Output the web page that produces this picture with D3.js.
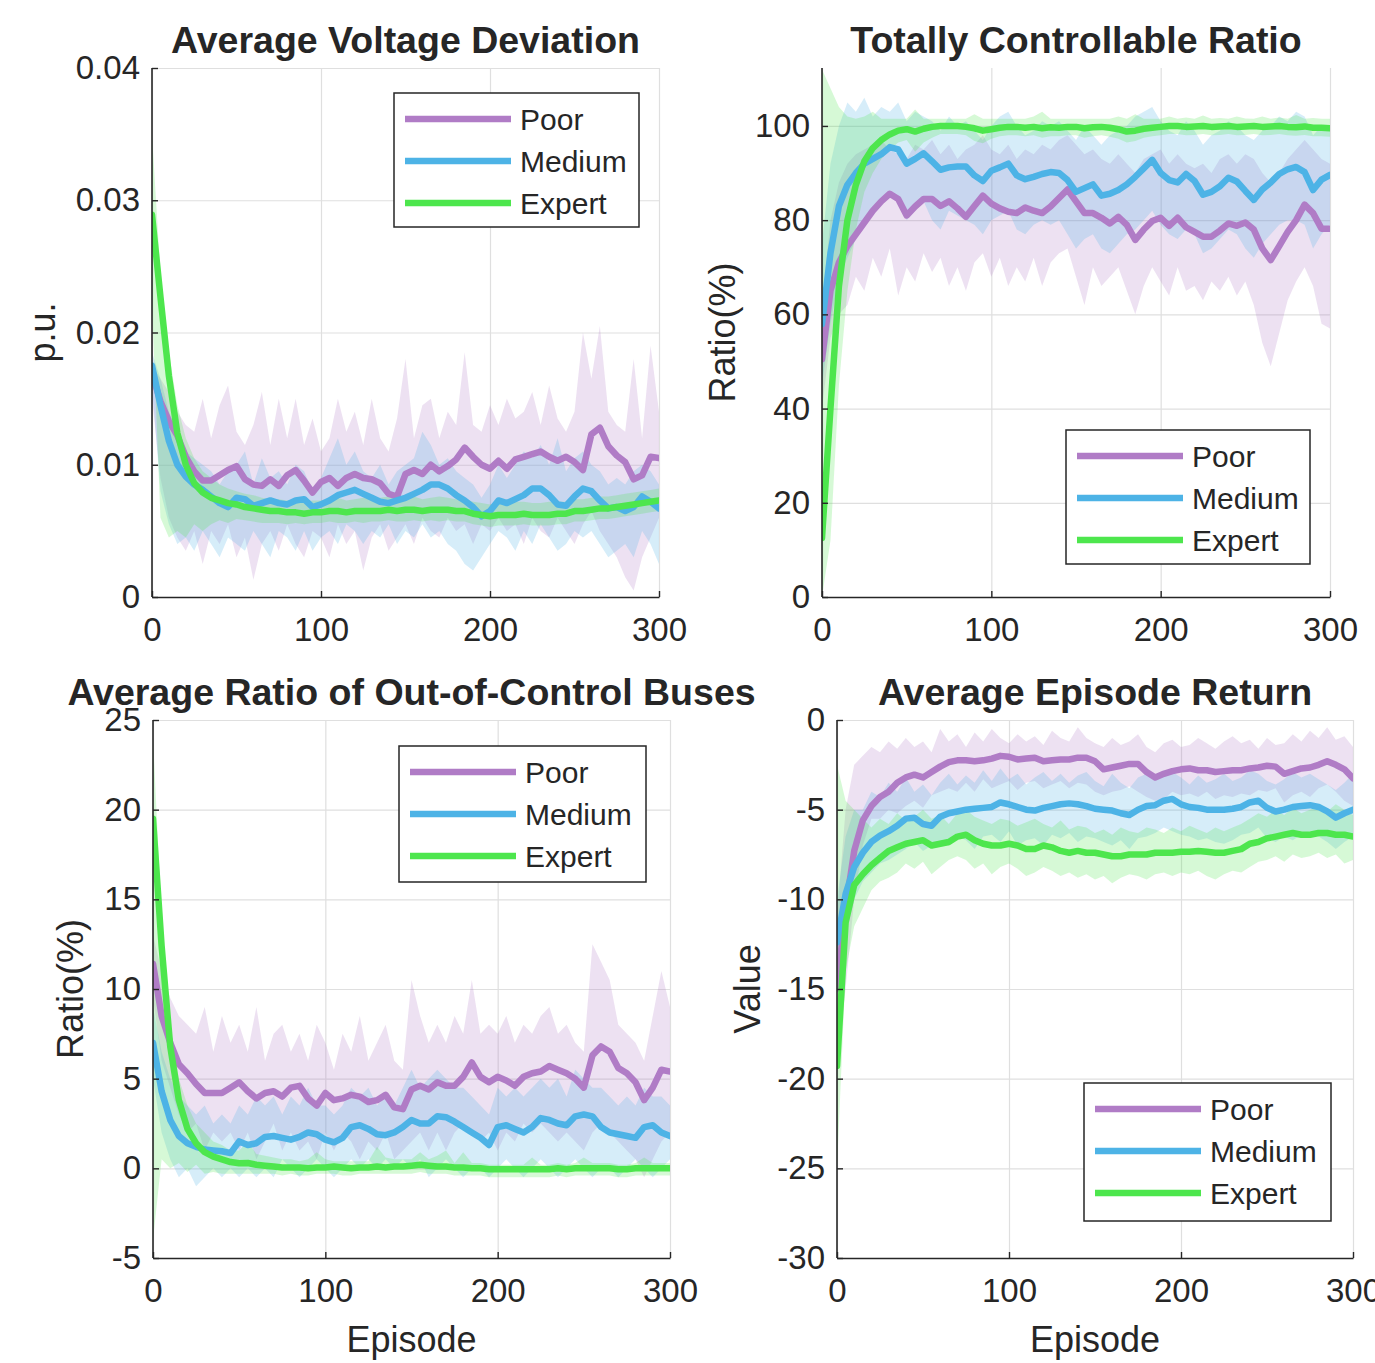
<!DOCTYPE html>
<html>
<head>
<meta charset="utf-8">
<script src="https://cdn.jsdelivr.net/npm/d3@7"></script>
<style>
  body { margin: 0; background: #fff; }
  text { font-family: "Liberation Sans", Arial, Helvetica, sans-serif; fill: #262626; }
</style>
</head>
<body>
<svg id="fig" width="1375" height="1363"></svg>
<script>
// episodes sampled every 5
const episodes = d3.range(0, 301, 5);
const seriesNames = ["Poor", "Medium", "Expert"];
const seriesColors = ["#b07cc6", "#4db3e6", "#4de64d"];
const xTicks = [0, 100, 200, 300];

// Average Voltage Deviation (values in 1e-3 p.u.)
const avdTicks = [0, 10, 20, 30, 40];
const avdTickLabels = ["0", "0.01", "0.02", "0.03", "0.04"];
const avdPoor = [16.9,14.8,13.3,12.2,10.6,9.5,8.8,8.8,9.2,9.6, 9.9,8.9,8.5,8.4,8.9,8.4,9.2,9.6,8.8,7.9, 8.7,9.0,8.4,9.0,9.3,9.0,8.9,8.6,7.8,7.6, 9.3,9.6,9.3,10.0,9.5,9.9,10.4,11.3,10.6,10.0, 9.7,10.3,9.7,10.4,10.6,10.8,11.0,10.6,10.3,10.6, 10.2,9.6,12.3,12.8,11.4,10.7,10.2,8.9,9.2,10.6, 10.5];
const avdPoorHi = [17.5,16.5,15.5,14.0,13.0,12.5,15.0,12.0,14.5,16.0, 12.5,11.5,13.0,15.5,11.5,15.0,12.0,15.0,11.5,13.5, 11.0,12.0,15.0,12.5,14.0,11.5,15.0,12.0,11.0,13.5, 18.0,12.0,14.5,15.0,12.0,14.0,13.0,18.5,13.0,12.5, 14.5,13.0,15.0,13.5,14.0,15.5,13.0,16.0,13.5,12.5, 14.0,20.0,16.5,20.5,14.0,13.0,12.5,18.0,12.0,19.0, 14.0];
const avdPoorLo = [15.0,9.0,6.0,4.5,3.5,5.0,2.5,5.0,4.0,5.5, 3.0,4.5,1.3,4.0,5.0,3.5,5.5,4.0,3.0,5.0, 4.5,3.0,5.5,4.0,5.0,2.0,4.5,5.5,3.5,4.5, 5.5,4.0,6.0,5.0,4.5,6.0,5.0,5.5,4.0,5.5, 5.0,6.0,5.0,5.5,4.0,6.0,5.0,4.5,6.0,5.0, 4.0,5.5,6.5,5.0,4.0,3.0,1.5,0.5,3.0,4.5, 6.0];
const avdMedium = [17.5,14.5,11.8,10.0,9.1,8.5,8.1,7.6,7.1,6.8, 7.5,7.4,6.9,7.1,7.3,7.1,7.0,7.3,7.4,6.8, 7.0,7.3,7.7,7.9,8.1,7.8,7.5,7.2,7.1,7.3, 7.5,7.8,8.1,8.5,8.5,8.2,7.7,7.3,6.8,6.1, 6.5,7.3,7.1,7.4,7.7,8.2,8.2,7.7,7.0,6.9, 7.6,8.2,8.0,7.3,6.7,6.8,6.5,6.8,7.6,7.2, 6.7];
const avdMediumHi = [18.5,16.5,14.0,12.5,11.0,10.5,10.0,9.5,8.5,9.5, 10.0,11.0,8.5,10.5,9.0,9.5,8.5,10.0,9.5,8.0, 9.0,10.5,12.0,10.0,11.0,9.5,9.0,10.0,8.5,9.5, 10.0,10.5,12.5,11.5,10.0,10.5,9.5,9.0,8.5,7.5, 8.5,10.0,9.0,10.0,11.0,10.5,11.5,10.0,12.0,9.5, 10.5,11.0,10.0,9.5,8.5,9.0,8.5,9.5,10.0,9.5, 8.5];
const avdMediumLo = [16.0,8.0,5.5,4.0,4.5,3.5,5.0,4.0,3.0,4.5, 4.0,3.5,5.0,4.0,3.0,5.0,4.5,3.5,5.0,3.5, 4.5,5.0,4.0,5.5,5.0,4.0,5.0,4.5,5.5,4.0, 5.0,4.5,5.5,4.5,5.0,4.0,3.5,2.5,2.0,3.0, 4.0,5.0,4.5,3.5,5.0,4.0,5.5,4.5,3.5,4.0, 5.0,4.5,5.0,4.0,3.0,3.5,4.0,3.0,5.0,4.0, 2.5];
const avdExpert = [28.9,22.7,16.7,12.4,10.0,8.6,7.9,7.5,7.3,7.1, 7.0,6.8,6.7,6.6,6.5,6.5,6.4,6.4,6.3,6.4, 6.4,6.5,6.5,6.4,6.5,6.5,6.5,6.5,6.6,6.5, 6.6,6.6,6.5,6.6,6.6,6.6,6.5,6.5,6.3,6.2, 6.1,6.2,6.2,6.2,6.3,6.2,6.2,6.2,6.3,6.3, 6.5,6.5,6.6,6.7,6.7,6.8,6.9,7.0,7.1,7.2, 7.3];
const avdExpertHi = [35.0,24.5,18.5,14.5,12.0,10.5,9.5,9.0,8.5,8.2, 8.0,7.8,7.7,7.5,7.4,7.4,7.3,7.4,7.2,7.3, 7.3,7.4,7.5,7.3,7.4,7.5,7.4,7.5,7.6,7.4, 7.5,7.6,7.4,7.5,7.6,7.5,7.4,7.4,7.2,7.1, 7.0,7.1,7.1,7.2,7.2,7.1,7.1,7.2,7.2,7.2, 7.4,7.4,7.5,7.6,7.6,7.7,7.8,7.9,8.0,8.1, 8.2];
const avdExpertLo = [22.0,6.0,4.5,5.0,4.5,5.5,5.0,5.5,5.8,5.6, 5.9,5.8,5.7,5.6,5.6,5.6,5.5,5.6,5.5,5.6, 5.6,5.7,5.6,5.6,5.7,5.6,5.7,5.7,5.8,5.7, 5.7,5.8,5.7,5.8,5.7,5.8,5.7,5.7,5.5,5.4, 5.3,5.4,5.4,5.4,5.5,5.4,5.4,5.4,5.5,5.5, 5.7,5.7,5.8,5.9,5.9,6.0,6.1,6.2,6.3,6.4, 6.5];

// Totally Controllable Ratio (%)
const tcrTicks = [0, 20, 40, 60, 80, 100];
const tcrPoor = [50.5,65,71,74.5,77,79.5,82,84,85.6,84.5, 81,82.9,84.5,84.5,83,84,82.5,80.7,83,85.2, 83.5,82.5,81.8,81.5,82.7,82,81.5,82.9,84.7,86.5, 84,81.5,81.5,80.5,79.3,80.7,79,75.8,78,79.8, 80.5,78.8,80.5,78.5,77.5,76.5,76.5,77.8,79.3,78.8, 79.5,78,74,71.5,74.5,77.5,80,83.3,81.5,78.2, 78.2];
const tcrPoorHi = [62,80,88,92,94,95,96,97,95,94, 93,96,95,97,94,96,93,95,96,98, 95,94,96,93,95,94,96,95,97,98, 96,94,95,93,92,94,92,90,93,94, 95,92,94,92,91,92,90,93,94,92, 94,93,90,88,90,93,95,97,95,93, 92];
const tcrPoorLo = [40,55,60,62,68,65,72,68,74,64, 70,67,73,69,72,66,70,65,71,73, 68,72,66,70,67,72,66,71,73,74, 68,62,70,66,68,70,65,60,66,70, 67,64,70,65,66,63,67,65,68,64, 67,62,54,49,56,63,67,70,66,58, 57];
const tcrMedium = [58,73,83,87.5,90,92,93,94,95.5,95, 92,93,94.2,92.5,90.7,91.2,91.4,91.4,89.5,88.3, 90.5,91.2,92,89.5,88.7,89.2,89.8,90.2,90,88.5, 86,86.8,87.6,85.2,85.6,86.4,87.6,89.2,91,92.8, 90,88.5,88,89.8,88.3,85.4,86,87.2,89,88.2, 86.2,84.3,86.5,88,89.8,90.8,91.3,90.2,86.4,88.6, 89.6];
const tcrMediumHi = [75,92,100,105,103,106,102,104,103,105, 101,103,102,101,99,102,100,101,99,97, 100,102,103,100,98,99,101,100,101,99, 97,100,98,96,98,99,100,102,103,104, 101,99,98,101,99,96,98,99,101,100, 98,97,99,100,102,101,103,102,98,100, 100];
const tcrMediumLo = [45,58,68,72,76,80,82,84,86,85, 80,82,84,80,78,82,81,80,79,77, 80,81,82,78,77,79,80,79,80,77, 74,76,77,74,73,75,77,78,80,82, 79,77,76,78,77,73,74,76,78,77, 74,72,75,77,79,80,80,79,74,77, 79];
const tcrExpert = [12.5,40,66,80,87.5,92.5,95.3,97,98.2,99, 99.3,98.8,99.4,99.8,100,100,100,99.8,99.5,99.0, 99.3,99.6,99.8,99.8,99.6,99.8,99.5,99.7,99.6,99.8, 99.8,99.5,99.7,99.8,99.6,99.3,98.8,99.0,99.4,99.6, 99.8,100,100,99.8,99.9,100,99.8,99.9,100,99.8, 99.9,100,99.8,99.9,100,99.8,99.7,99.9,99.6,99.6, 99.5];
const tcrExpertHi = [112,108,104,102,101.5,102,103,101.5,101.5,101.5, 101.5,103.5,101.5,101.5,101.5,101.5,101.5,101.5,102.5,101.5, 101.5,101.5,101.5,101.5,101.5,102,103,101.5,101.5,101.5, 101.5,101.5,101.5,101.5,101.5,102,101.5,102.5,101.5,101.5, 101.5,102,101.5,101.8,101.5,102.2,101.5,101.7,101.5,102, 101.6,101.5,102,101.5,101.8,101.5,102.3,101.5,101.7,101.5, 101.5];
const tcrExpertLo = [0,12,45,65,78,86,90,93,95,96.5, 97,94.5,96.5,97.5,98.3,98.3,98.3,98,96.8,96.3, 97.3,97.8,98,98,97.8,98,97.5,97.8,97.8,98, 98,97.5,97.8,98,97.7,97.3,96.5,96.8,97.5,97.8, 98,98.3,98.3,98,98.1,98.3,98,98.1,98.3,98, 98.1,98.3,98,98.1,98.3,98,97.9,98.1,97.8,97.8, 97.7];

// Average Ratio of Out-of-Control Buses (%)
const arcTicks = [-5, 0, 5, 10, 15, 20, 25];
const arcPoor = [11.4,8.5,7.0,5.8,5.3,4.7,4.2,4.2,4.2,4.5, 4.8,4.3,3.9,4.2,4.3,4.0,4.5,4.6,3.9,3.5, 4.2,3.8,3.9,4.1,4.0,3.7,3.8,4.1,3.4,3.3, 4.4,4.6,4.4,4.8,4.6,4.6,5.1,5.9,5.1,4.8, 5.1,4.9,4.6,5.1,5.3,5.4,5.7,5.5,5.3,5.0, 4.5,6.3,6.8,6.5,5.6,5.3,4.8,3.8,4.5,5.5, 5.4];
const arcPoorHi = [13,11,9.5,8.5,8.0,7.5,9.0,6.5,8.5,7.0, 8.0,6.5,9.0,6.0,7.5,8.0,6.5,7.5,6.0,8.0, 7.0,5.5,7.5,6.5,8.5,6.0,7.0,8.0,6.0,5.5, 10.5,8.5,7.0,8.0,7.0,8.5,7.5,10.5,7.5,8.0, 7.5,8.5,7.0,8.0,7.5,8.5,9.0,7.5,8.0,7.0, 6.5,12.5,11.5,10.5,8.0,7.5,7.0,6.0,8.5,11.0, 9.0];
const arcPoorLo = [9.5,6.0,4.5,3.0,2.0,2.5,1.0,2.0,1.5,2.0, 1.0,2.0,0.5,1.5,2.5,1.0,2.0,1.0,1.5,0.5, 2.0,1.0,2.0,1.5,0.5,1.5,1.0,2.0,0.5,1.0, 1.5,2.0,1.0,2.0,1.0,2.0,2.5,2.0,1.5,2.0, 1.0,2.0,1.5,2.5,2.0,2.5,2.0,1.5,2.0,1.5, 1.0,2.0,2.5,2.0,1.5,1.0,0.5,-0.5,0.5,1.5, 2.0];
const arcMedium = [7.0,4.3,2.7,1.8,1.4,1.2,1.05,1.0,0.95,0.85, 1.5,1.3,1.4,1.75,1.8,1.7,1.6,1.75,2.0,1.9, 1.6,1.45,1.7,2.3,2.4,2.2,1.9,1.85,2.0,2.3, 2.7,2.5,2.5,2.9,2.85,2.6,2.3,2.0,1.7,1.3, 2.3,2.4,2.2,2.0,2.3,2.8,2.7,2.5,2.4,2.9, 3.0,2.9,2.3,2.0,1.9,1.8,1.7,2.3,2.4,2.0, 1.8];
const arcMediumHi = [9.0,6.5,5.0,4.0,3.5,3.0,3.5,2.5,3.0,2.5, 3.5,3.0,4.0,3.5,4.0,3.0,4.0,3.5,4.5,3.5, 3.5,3.0,3.5,4.5,4.0,4.5,3.5,4.0,3.5,4.5, 5.5,4.5,5.0,5.5,5.0,4.5,4.5,4.0,3.5,3.0, 4.5,4.0,4.5,4.0,4.5,5.0,4.5,5.0,4.0,5.5, 5.0,4.5,4.5,4.0,3.5,4.0,3.5,4.5,4.0,4.0, 3.5];
const arcMediumLo = [5.0,2.0,0.5,-0.5,0.0,-1.0,-0.5,0.0,-0.5,0.0, -0.5,0.0,-0.5,0.0,-0.5,0.5,0.0,-0.5,0.0,0.5, 0.0,-0.5,0.0,0.5,0.0,0.5,0.0,0.5,0.0,0.5, 0.0,0.5,-0.5,0.0,0.5,0.0,-0.5,0.0,0.0,-0.5, 0.0,0.5,0.0,-0.5,0.0,0.5,0.0,-0.5,0.0,0.5, 0.0,-0.5,0.0,0.0,-0.5,0.0,0.5,0.0,-0.5,0.0, 0.5];
const arcExpert = [19.5,12.4,6.8,3.8,2.2,1.4,0.9,0.65,0.5,0.35, 0.28,0.3,0.2,0.15,0.1,0.05,0.05,0.05,0.0,0.05, 0.05,0.1,0.05,0.0,0.05,0.05,0.1,0.05,0.1,0.1, 0.15,0.2,0.15,0.1,0.1,0.05,0.05,0.0,0.0,-0.05, -0.05,-0.05,-0.05,-0.05,-0.05,-0.05,-0.05,0.0,-0.05,0.0, 0.0,0.0,0.0,0.0,-0.05,-0.05,0.0,0.0,0.0,0.0, 0.0];
const arcExpertHi = [24,14,8,5,3.5,2.5,2.0,1.5,1.3,1.0, 1.0,1.5,0.8,0.7,0.6,0.5,0.5,0.4,0.5,0.9, 0.5,0.4,0.4,0.4,0.4,0.4,1.2,0.6,0.5,0.5, 0.5,0.9,0.5,0.7,1.0,0.3,0.9,0.3,0.3,0.2, 0.2,0.2,0.2,0.2,0.6,0.2,0.2,0.3,0.2,0.3, 0.6,0.3,0.3,0.3,0.2,0.2,0.3,0.6,0.3,0.3, 0.3];
const arcExpertLo = [-4,0.5,0.0,0.3,-0.2,0.2,-0.3,-0.2,-0.3,-0.3, -0.3,-0.3,-0.3,-0.3,-0.3,-0.4,-0.3,-0.4,-0.4,-0.3, -0.3,-0.3,-0.4,-0.4,-0.3,-0.3,-0.3,-0.3,-0.3,-0.3, -0.3,-0.2,-0.3,-0.3,-0.3,-0.4,-0.4,-0.4,-0.4,-0.5, -0.5,-0.5,-0.5,-0.5,-0.5,-0.5,-0.5,-0.4,-0.5,-0.4, -0.4,-0.4,-0.4,-0.4,-0.5,-0.5,-0.4,-0.4,-0.4,-0.4, -0.4];

// Average Episode Return
const aerTicks = [-30, -25, -20, -15, -10, -5, 0];
const aerPoor = [-15.0,-10.5,-7.3,-5.6,-4.8,-4.3,-4.0,-3.5,-3.2,-3.05, -3.2,-2.9,-2.6,-2.35,-2.25,-2.25,-2.3,-2.25,-2.15,-2.0, -2.05,-2.2,-2.15,-2.1,-2.3,-2.25,-2.2,-2.2,-2.1,-2.1, -2.3,-2.75,-2.65,-2.55,-2.45,-2.45,-2.9,-3.2,-3.0,-2.85, -2.75,-2.7,-2.8,-2.8,-2.9,-2.85,-2.8,-2.8,-2.7,-2.65, -2.55,-2.6,-3.0,-2.85,-2.7,-2.65,-2.5,-2.3,-2.5,-2.75, -3.25];
const aerPoorHi = [-11,-5,-2.5,-2.0,-1.5,-1.8,-1.2,-1.6,-1.0,-1.5, -1.2,-1.8,-0.5,-1.2,-0.8,-1.5,-0.7,-1.2,-0.5,-1.0, -1.3,-0.8,-1.2,-0.9,-1.4,-0.6,-1.0,-1.2,-0.4,-1.0, -1.3,-1.5,-1.0,-1.4,-1.2,-0.8,-1.5,-1.8,-1.3,-1.1, -1.5,-1.4,-1.0,-1.3,-1.6,-1.2,-0.9,-1.3,-1.1,-1.6, -1.0,-1.4,-1.3,-0.8,-1.2,-0.6,-1.0,-0.4,-1.1,-0.9, -1.5];
const aerPoorLo = [-19,-15,-10,-7,-5.5,-5.5,-5.0,-5.2,-4.8,-4.5, -4.9,-4.2,-4.0,-3.8,-4.0,-3.5,-4.0,-3.3,-3.8,-3.6, -3.4,-3.9,-3.5,-3.4,-3.8,-3.6,-3.4,-3.8,-3.5,-3.6, -4.0,-4.2,-4.0,-3.9,-3.7,-4.0,-4.3,-4.5,-4.4,-4.0, -4.2,-4.1,-4.3,-4.0,-4.4,-4.2,-4.3,-4.1,-4.2,-3.9, -4.0,-3.8,-4.6,-4.2,-4.0,-4.3,-3.8,-3.6,-4.0,-4.5, -4.8];
const aerMedium = [-12.4,-9.7,-8.2,-7.4,-6.8,-6.45,-6.2,-5.9,-5.5,-5.45, -5.8,-5.9,-5.4,-5.2,-5.1,-5.0,-4.95,-4.9,-4.85,-4.6, -4.7,-4.85,-5.0,-5.05,-4.9,-4.8,-4.7,-4.65,-4.7,-4.8, -4.95,-5.0,-5.05,-5.2,-5.3,-5.0,-4.8,-4.75,-4.5,-4.4, -4.7,-4.85,-4.9,-5.0,-5.0,-5.0,-4.95,-4.85,-4.6,-4.5, -4.9,-5.1,-5.0,-4.85,-4.8,-4.75,-4.85,-5.1,-5.45,-5.2, -5.0];
const aerMediumHi = [-10,-6.5,-5.0,-5.0,-4.0,-4.3,-3.5,-4.0,-3.2,-4.0, -3.6,-4.2,-3.5,-3.0,-3.6,-3.1,-3.5,-2.8,-3.4,-2.7, -3.3,-3.0,-3.6,-3.2,-2.9,-3.4,-3.0,-3.5,-3.1,-2.9, -3.4,-3.7,-3.0,-3.5,-3.8,-3.2,-3.0,-3.3,-2.8,-2.9, -3.2,-3.6,-3.1,-3.5,-3.3,-3.0,-3.4,-3.2,-2.8,-3.0, -3.4,-3.6,-3.3,-2.9,-3.2,-3.0,-3.3,-3.6,-3.9,-3.5, -3.0];
const aerMediumLo = [-15,-12,-10,-9.0,-8.5,-8.0,-7.8,-7.5,-7.2,-6.8, -7.3,-7.0,-6.8,-7.0,-6.5,-6.7,-7.2,-6.5,-6.4,-6.8, -6.2,-7.0,-6.7,-6.6,-7.0,-6.4,-6.6,-6.3,-6.8,-6.5, -6.6,-6.8,-7.0,-6.7,-7.2,-6.6,-6.5,-6.3,-6.0,-6.2, -6.4,-6.5,-6.7,-6.6,-6.8,-6.9,-6.7,-6.4,-6.3,-6.0, -6.6,-6.8,-6.5,-6.7,-6.4,-6.2,-6.5,-6.8,-7.2,-6.8, -6.5];
const aerExpert = [-19.3,-11.3,-9.2,-8.6,-8.1,-7.7,-7.3,-7.1,-6.9,-6.8, -6.7,-7.0,-6.9,-6.8,-6.5,-6.4,-6.7,-6.9,-7.0,-7.0, -6.9,-7.0,-7.2,-7.2,-7.0,-7.1,-7.3,-7.4,-7.3,-7.4, -7.4,-7.5,-7.6,-7.6,-7.5,-7.5,-7.5,-7.4,-7.4,-7.4, -7.35,-7.35,-7.3,-7.35,-7.4,-7.4,-7.3,-7.2,-6.9,-6.8, -6.6,-6.5,-6.4,-6.3,-6.4,-6.4,-6.3,-6.3,-6.4,-6.4, -6.5];
const aerExpertHi = [-2.5,-4.5,-5.0,-5.5,-6.0,-5.5,-5.8,-5.2,-5.6,-5.4, -5.0,-5.5,-5.3,-5.8,-5.2,-5.0,-5.4,-5.6,-5.8,-5.5, -5.6,-5.9,-5.7,-5.5,-5.8,-6.0,-5.6,-6.1,-5.9,-6.0, -6.3,-6.1,-6.4,-6.0,-6.2,-6.3,-6.0,-6.1,-6.3,-6.0, -6.2,-5.9,-6.1,-6.3,-6.0,-6.2,-6.0,-5.8,-5.5,-5.2, -5.4,-5.0,-5.3,-4.9,-5.2,-5.0,-4.8,-5.1,-4.7,-5.0, -5.3];
const aerExpertLo = [-25,-14,-11.5,-10.5,-9.5,-9.0,-8.8,-8.5,-8.0,-8.3, -7.9,-8.6,-8.2,-7.8,-7.6,-7.8,-8.3,-8.0,-8.6,-8.2, -8.0,-8.3,-8.7,-8.5,-8.2,-8.4,-8.7,-8.5,-8.8,-8.6, -8.9,-8.7,-9.1,-8.8,-8.6,-8.7,-8.9,-8.6,-8.5,-8.7, -8.5,-8.6,-8.4,-8.7,-8.9,-8.6,-8.4,-8.5,-8.2,-7.9, -7.8,-7.6,-7.9,-7.5,-7.7,-7.6,-7.4,-7.7,-7.5,-8.0, -7.8];

// layout of the four panels
const panels = [
    { title: "Average Voltage Deviation", ylabel: "p.u.", xlabel: false,
      left: 152, right: 659, top: 68, bottom: 597, yDomain: [0, 40],
      yTicks: avdTicks, yTickLabels: avdTickLabels, ylabelX: 55,
      mean: [avdPoor, avdMedium, avdExpert], hi: [avdPoorHi, avdMediumHi, avdExpertHi], lo: [avdPoorLo, avdMediumLo, avdExpertLo],
      legend: { x: 394, y: 93, w: 245, h: 134 } },
    { title: "Totally Controllable Ratio", ylabel: "Ratio(%)", xlabel: false,
      left: 822, right: 1330, top: 68, bottom: 597, yDomain: [0, 112.3],
      yTicks: tcrTicks, yTickLabels: tcrTicks.map(String), ylabelX: 735,
      mean: [tcrPoor, tcrMedium, tcrExpert], hi: [tcrPoorHi, tcrMediumHi, tcrExpertHi], lo: [tcrPoorLo, tcrMediumLo, tcrExpertLo],
      legend: { x: 1066, y: 430, w: 244, h: 134 } },
    { title: "Average Ratio of Out-of-Control Buses", ylabel: "Ratio(%)", xlabel: true,
      left: 153, right: 670, top: 720, bottom: 1258, yDomain: [-5, 25],
      yTicks: arcTicks, yTickLabels: arcTicks.map(String), ylabelX: 83,
      mean: [arcPoor, arcMedium, arcExpert], hi: [arcPoorHi, arcMediumHi, arcExpertHi], lo: [arcPoorLo, arcMediumLo, arcExpertLo],
      legend: { x: 399, y: 746, w: 247, h: 136 } },
    { title: "Average Episode Return", ylabel: "Value", xlabel: true,
      left: 837, right: 1353, top: 720, bottom: 1258, yDomain: [-30, 0],
      yTicks: aerTicks, yTickLabels: aerTicks.map(String), ylabelX: 760,
      mean: [aerPoor, aerMedium, aerExpert], hi: [aerPoorHi, aerMediumHi, aerExpertHi], lo: [aerPoorLo, aerMediumLo, aerExpertLo],
      legend: { x: 1084, y: 1083, w: 247, h: 138 } }
];

const svg = d3.select("#fig");
const axisColor = "#262626";
const gridColor = "#dfdfdf";

panels.forEach((p, pi) => {
    const x = d3.scaleLinear().domain([0, 300]).range([p.left, p.right]);
    const y = d3.scaleLinear().domain(p.yDomain).range([p.bottom, p.top]);
    const g = svg.append("g");

    // grid lines
    g.append("g").attr("transform", `translate(0,${p.bottom})`)
        .call(d3.axisBottom(x).tickValues(xTicks).tickSize(-(p.bottom - p.top)).tickFormat(""))
        .call(s => { s.select(".domain").remove(); s.selectAll("line").attr("stroke", gridColor).attr("stroke-width", 1.2); });
    g.append("g").attr("transform", `translate(${p.left},0)`)
        .call(d3.axisLeft(y).tickValues(p.yTicks).tickSize(-(p.right - p.left)).tickFormat(""))
        .call(s => { s.select(".domain").remove(); s.selectAll("line").attr("stroke", gridColor).attr("stroke-width", 1.2); });

    // clip to the axes box
    svg.append("clipPath").attr("id", "clip" + pi)
        .append("rect").attr("x", p.left).attr("y", p.top)
        .attr("width", p.right - p.left).attr("height", p.bottom - p.top);
    const plot = g.append("g").attr("clip-path", `url(#clip${pi})`);

    // shaded bands
    p.mean.forEach((m, i) => {
        const area = d3.area()
            .x((d, j) => x(episodes[j]))
            .y0((d, j) => y(p.lo[i][j]))
            .y1((d, j) => y(p.hi[i][j]));
        plot.append("path").datum(m)
            .attr("d", area)
            .attr("fill", seriesColors[i])
            .attr("fill-opacity", 0.23);
    });

    // mean lines
    p.mean.forEach((m, i) => {
        const line = d3.line().x((d, j) => x(episodes[j])).y(d => y(d));
        plot.append("path").datum(m)
            .attr("d", line)
            .attr("fill", "none")
            .attr("stroke", seriesColors[i])
            .attr("stroke-width", 6.5)
            .attr("stroke-linejoin", "round")
            .attr("stroke-linecap", "round");
    });

    // axes
    const xAxis = g.append("g").attr("transform", `translate(0,${p.bottom})`)
        .call(d3.axisBottom(x).tickValues(xTicks).tickSizeInner(-6).tickSizeOuter(0).tickPadding(21));
    const yAxis = g.append("g").attr("transform", `translate(${p.left},0)`)
        .call(d3.axisLeft(y).tickValues(p.yTicks).tickSizeInner(-6).tickSizeOuter(0).tickPadding(12)
            .tickFormat((d, i) => p.yTickLabels[i]));
    [xAxis, yAxis].forEach(a => {
        a.attr("font-family", null).attr("font-size", 33).attr("color", axisColor);
        a.select(".domain").attr("stroke-width", 1.6);
        a.selectAll(".tick line").attr("stroke-width", 1.4);
    });
    yAxis.select(".domain").attr("d", `M0,${p.bottom}V${p.top}`);

    // title and labels
    g.append("text").attr("x", (p.left + p.right) / 2).attr("y", p.top - 15)
        .attr("text-anchor", "middle").style("font-size", "37.5px").style("font-weight", "bold")
        .text(p.title);
    g.append("text").attr("transform", `translate(${p.ylabelX},${(p.top + p.bottom) / 2}) rotate(-90)`)
        .attr("text-anchor", "middle").style("font-size", "36px").text(p.ylabel);
    if (p.xlabel) {
        g.append("text").attr("x", (p.left + p.right) / 2).attr("y", 1352)
            .attr("text-anchor", "middle").style("font-size", "36px").text("Episode");
    }

    // legend
    const L = p.legend;
    const lg = g.append("g");
    lg.append("rect").attr("x", L.x).attr("y", L.y).attr("width", L.w).attr("height", L.h)
        .attr("fill", "#fff").attr("stroke", axisColor).attr("stroke-width", 1.5);
    seriesNames.forEach((name, i) => {
        const ly = L.y + 26 + i * 42;
        lg.append("line").attr("x1", L.x + 11).attr("x2", L.x + 117).attr("y1", ly).attr("y2", ly)
            .attr("stroke", seriesColors[i]).attr("stroke-width", 6.5);
        lg.append("text").attr("x", L.x + 126).attr("y", ly + 10.5)
            .style("font-size", "30px").text(name);
    });
});
</script>
</body>
</html>
